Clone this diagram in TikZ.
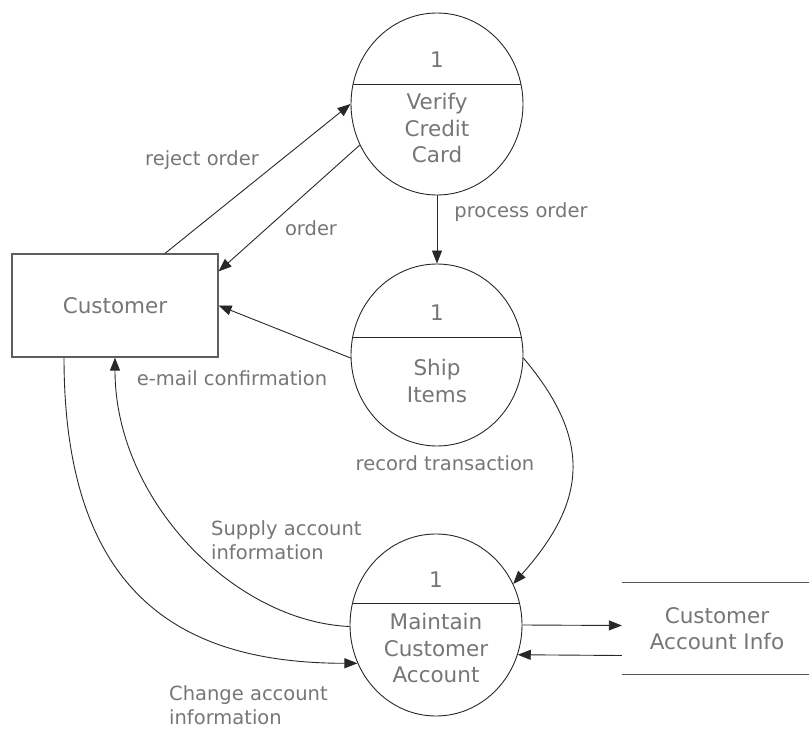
\documentclass[tikz,border=0pt]{standalone}
\usepackage{fontspec}
\setmainfont{DejaVu Sans}
\usetikzlibrary{shapes.geometric,arrows.meta}
\definecolor{txt}{RGB}{118,118,118}
\definecolor{ln}{RGB}{40,40,40}
\begin{document}
\begin{tikzpicture}[x=1pt,y=-1pt,
  proc/.style={ellipse,draw=ln,line width=0.9pt,minimum width=172pt,minimum height=182pt,inner sep=0pt},
  ent/.style={rectangle,draw=ln!75,line width=1.2pt,minimum width=206pt,minimum height=103pt,text=txt,font=\fontsize{21.5}{26}\selectfont},
  store/.style={rectangle,minimum width=190pt,minimum height=91pt,inner sep=0pt,text=txt,align=center,font=\fontsize{21.5}{26}\selectfont},
  ntext/.style={text=txt,font=\fontsize{21.5}{26.5}\selectfont,align=center,inner sep=0pt},
  lbl/.style={text=txt,font=\fontsize{19.5}{23.5}\selectfont,inner sep=0pt,align=left},
  flow/.style={draw=ln,line width=0.9pt,-{Triangle[length=13pt,width=10pt]}},
  divline/.style={draw=ln,line width=0.9pt},
  storeline/.style={draw=ln!80,line width=1pt}
]
\useasboundingbox (0,0) rectangle (809,730);

% processes
\node[proc] (V) at (437,104) {};
\node[proc] (S) at (437,355) {};
\node[proc] (M) at (436,625) {};

\draw[divline] ([xshift=-83.9pt,yshift=20pt]V.center) -- ([xshift=83.9pt,yshift=20pt]V.center);
\draw[divline] ([xshift=-83.9pt,yshift=18pt]S.center) -- ([xshift=83.9pt,yshift=18pt]S.center);
\draw[divline] ([xshift=-83.9pt,yshift=22pt]M.center) -- ([xshift=83.9pt,yshift=22pt]M.center);

\node[ntext] (Vn) at (437,60) {1};
\node[ntext] (Vt) at (437,128) {Verify\\Credit\\Card};
\node[ntext] (Sn) at (437,313) {1};
\node[ntext] (St2) at (437,381) {Ship\\Items};
\node[ntext] (Mn) at (436,580) {1};
\node[ntext] (Mt) at (436,648) {Maintain\\Customer\\Account};

% entity
\node[ent] (C) at (115,305.5) {Customer};

% data store
\node[store] (St) at (717,628.5) {Customer\\Account Info};
\draw[storeline] (St.north west) -- (St.north east);
\draw[storeline] (St.south west) -- (St.south east);

% flows
\draw[flow] ([xshift=50pt]C.north) -- (V.180);
\draw[flow] (V.208) -- ([yshift=-18pt]C.north east);
\draw[flow] (V.south) -- (S.north);
\draw[flow] (S.182) -- (C.east);
\draw[flow] (S.-2) .. controls +(70,83) and +(73,-82) .. (M.28);
\draw[flow] ([xshift=-51pt]C.south) .. controls +(0,243) and +(-170,0) .. (M.206);
\draw[flow] (M.181) .. controls +(-115,-5) and +(0,143) .. (C.south);
\draw[flow] (M.0) -- ([yshift=3pt]St.west);
\draw[flow] ([yshift=-27pt]St.west) -- (M.-20);

% labels
\node[lbl] (l1) at (202,160) {reject order};
\node[lbl] (l2) at (311,228) {order};
\node[lbl] (l3) at (521,212) {process order};
\node[lbl] (l4) at (232,378) {e-mail confirmation};
\node[lbl] (l5) at (445,463) {record transaction};
\node[lbl,anchor=west] (l6) at (211,540) {Supply account\\information};
\node[lbl,anchor=west] (l7) at (169,705) {Change account\\information};
\end{tikzpicture}
\end{document}
